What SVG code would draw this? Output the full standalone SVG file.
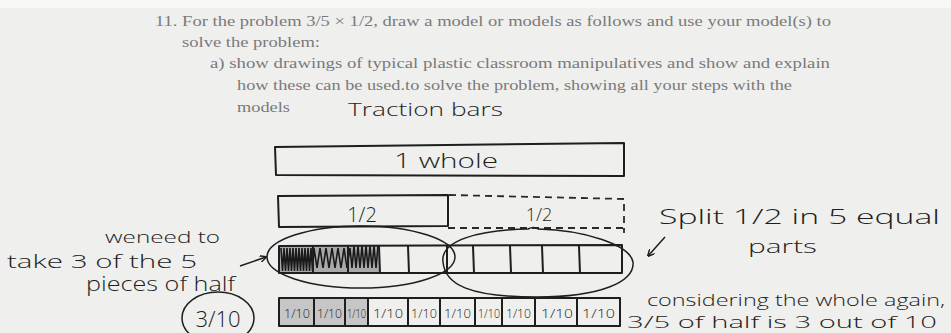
<svg xmlns="http://www.w3.org/2000/svg" width="951" height="333" viewBox="0 0 951 333">
<defs>
<style>
.pr{font-family:"Liberation Serif","Times New Roman",serif;font-size:15px;fill:#7a7a7a}
.hw{font-family:"Open Sans","Noto Sans","DejaVu Sans",sans-serif;font-weight:300;fill:#1e1e1e}
.ln{fill:none;stroke:#1e1e1e;stroke-width:2;stroke-linejoin:round;stroke-linecap:round}
.thin{fill:none;stroke:#1e1e1e;stroke-width:1.5}
.dash{fill:none;stroke:#2a2a2a;stroke-width:1.8;stroke-dasharray:7 5}
.cell{font-family:"Open Sans","Noto Sans","DejaVu Sans",sans-serif;font-weight:300;font-size:12px;fill:#1e1e1e}
</style>
<marker id="ah" viewBox="0 0 10 10" refX="9" refY="5" markerWidth="7" markerHeight="7" orient="auto" markerUnits="userSpaceOnUse">
<path d="M0,0 L10,5 L0,10" fill="none" stroke="#1e1e1e" stroke-width="2"/>
</marker>
</defs>
<rect width="951" height="333" fill="#efefed"/>
<rect width="951" height="8" fill="#f8f8f7"/>

<g id="question">
<text class="pr" x="155" y="26" textLength="676" lengthAdjust="spacingAndGlyphs">11. For the problem 3/5 × 1/2, draw a model or models as follows and use your model(s) to</text>
<text class="pr" x="182" y="47" textLength="138" lengthAdjust="spacingAndGlyphs">solve the problem:</text>
<text class="pr" x="210" y="68" textLength="620" lengthAdjust="spacingAndGlyphs">a) show drawings of typical plastic classroom manipulatives and show and explain</text>
<text class="pr" x="237" y="90" textLength="555" lengthAdjust="spacingAndGlyphs">how these can be used.to solve the problem, showing all your steps with the</text>
<text class="pr" x="237" y="112" textLength="53" lengthAdjust="spacingAndGlyphs">models</text>
<text class="hw" x="348" y="116" font-size="19" textLength="155" lengthAdjust="spacingAndGlyphs">Traction bars</text>
</g>

<g id="whole-bar">
<path class="ln" d="M275,147 L624,143 L624,176 L276,175 Z"/>
<text class="hw" x="394" y="168" font-size="21" textLength="104" lengthAdjust="spacingAndGlyphs">1 whole</text>
</g>

<g id="half-bar">
<path class="ln" d="M278,196 L448,195 L448,226 L279,227 Z"/>
<text class="hw" x="362" y="222" font-size="20" text-anchor="middle">1/2</text>
</g>

<g id="half-bar-dashed">
<path class="dash" d="M449,195 L624,199 L624,233 M448,228 L624,228"/>
<text class="hw" x="539" y="221" font-size="18" text-anchor="middle">1/2</text>
</g>

<g id="split-bar">
<rect x="279" y="246" width="100" height="27" fill="#a9a9a9"/>
<path d="M281,248 l1.5,23 l1.5,-23 l1.5,23 l1.5,-23 l1.5,23 l1.5,-23 l1.5,23 l1.5,-23 l1.5,23 l1.5,-23 l1.5,23 l1.5,-23 l1.5,23 l1.5,-23 l1.5,23 l1.5,-23 l1.5,23 l1.5,-23 l1.5,23 l1.5,-23 l1.5,23 l1.5,-23 l3,20 l3,-20 l3,20 l3,-20 l3,20 l3,-20 l3,20 l3,-20 l3,20 l3,-20 l3,20 l3,-20 l2,20 l2,-22 l2,22 l2,-22 l2,22 l2,-22 l2,22 l2,-22 l2,22 l2,-22 l2,22 l2,-22 l2,22 l2,-22" fill="none" stroke="#1a1a1a" stroke-width="1.6"/>
<path class="ln" d="M279,246 L622,245 L622,273 L279,273 Z"/>
<path class="ln" d="M313,246 L313,273 M348,246 L348,273 M379,246 L380,273 M408,246 L409,273 M447,246 L447,273 M473,246 L474,273 M510,246 L511,272 M542,246 L543,273 M579,246 L580,273"/>
</g>

<g id="ellipses">
<ellipse class="thin" cx="361" cy="257" rx="94" ry="31"/>
<path class="thin" d="M443,262 C440,240 480,230 528,229 Q534,226 538,229 C585,230 630,245 633,262 C635,282 600,297 537,297 C470,297 445,285 443,262 Z"/>
</g>

<g id="tenths-bar">
<rect x="279" y="298" width="89" height="28" fill="#c6c6c6"/>
<path class="ln" d="M279,298 L620,298 L620,326 L279,326 Z"/>
<path class="ln" d="M314,298 L314,326 M345,298 L345,326 M368,298 L368,326 M408,298 L408,326 M440,298 L440,326 M475,298 L475,326 M502,298 L502,326 M535,298 L535,326 M577,298 L577,326"/>
<text class="cell" x="284" y="318" textLength="26" lengthAdjust="spacingAndGlyphs">1/10</text>
<text class="cell" x="317" y="318" textLength="25" lengthAdjust="spacingAndGlyphs">1/10</text>
<text class="cell" x="347" y="318" textLength="19" lengthAdjust="spacingAndGlyphs">1/10</text>
<text class="cell" x="373" y="318" textLength="30" lengthAdjust="spacingAndGlyphs">1/10</text>
<text class="cell" x="411" y="318" textLength="26" lengthAdjust="spacingAndGlyphs">1/10</text>
<text class="cell" x="444" y="318" textLength="27" lengthAdjust="spacingAndGlyphs">1/10</text>
<text class="cell" x="478" y="318" textLength="22" lengthAdjust="spacingAndGlyphs">1/10</text>
<text class="cell" x="506" y="318" textLength="25" lengthAdjust="spacingAndGlyphs">1/10</text>
<text class="cell" x="541" y="318" textLength="32" lengthAdjust="spacingAndGlyphs">1/10</text>
<text class="cell" x="582" y="318" textLength="33" lengthAdjust="spacingAndGlyphs">1/10</text>
</g>

<g id="note-left">
<text class="hw" x="105" y="243" font-size="17" textLength="115" lengthAdjust="spacingAndGlyphs">weneed to</text>
<text class="hw" x="7" y="268" font-size="19" textLength="190" lengthAdjust="spacingAndGlyphs">take 3 of the 5</text>
<text class="hw" x="86" y="291" font-size="20" textLength="149" lengthAdjust="spacingAndGlyphs">pieces of half</text>
</g>

<g id="answer">
<ellipse class="thin" cx="218" cy="318" rx="36" ry="26"/>
<text class="hw" x="218" y="327" font-size="22" text-anchor="middle">3/10</text>
</g>

<g id="note-right">
<text class="hw" x="659" y="224" font-size="21" textLength="281" lengthAdjust="spacingAndGlyphs">Split 1/2 in 5 equal</text>
<text class="hw" x="748" y="253" font-size="19" textLength="69" lengthAdjust="spacingAndGlyphs">parts</text>
<text class="hw" x="647" y="306" font-size="16" textLength="298" lengthAdjust="spacingAndGlyphs">considering the whole again,</text>
<text class="hw" x="627" y="328" font-size="16" textLength="310" lengthAdjust="spacingAndGlyphs">3/5 of half is 3 out of 10</text>
</g>

<g id="connectors">
<path class="thin" d="M240,266 L266,257" marker-end="url(#ah)"/>
<path class="thin" d="M665,237 L648,256" marker-end="url(#ah)"/>
</g>
</svg>
